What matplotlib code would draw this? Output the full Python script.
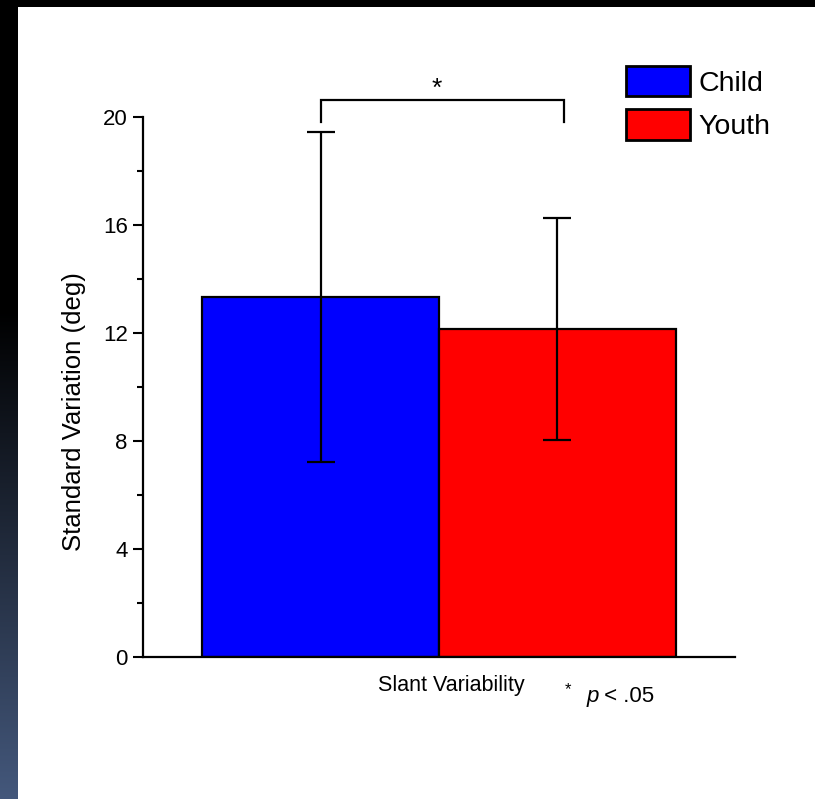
import numpy as np
import matplotlib
matplotlib.use("Agg")
import matplotlib.pyplot as plt
from matplotlib.patches import Rectangle

# Данные графика
groups = ['Child', 'Youth']
means = [13.33, 12.15]
errs = [6.1, 4.12]
yticks = [0, 4, 8, 12, 16, 20]

plt.rcParams['font.family'] = ['Liberation Sans', 'DejaVu Sans']

W, H = 815, 799
fig = plt.figure(figsize=(W / 100, H / 100), dpi=100)
fig.patch.set_facecolor('black')

# Белая панель слайда
fig.patches.append(Rectangle((18 / W, 0), 1 - 18 / W, 1 - 7 / H, transform=fig.transFigure,
                             facecolor='white', edgecolor='none', zorder=-5))

# Градиент слева
gax = fig.add_axes([0, 0, 18 / W, 1])
t = np.clip((np.arange(H) - 310) / (H - 310), 0, 1)
grad = np.zeros((H, 1, 3))
grad[:, 0, 0] = t * 68 / 255
grad[:, 0, 1] = t * 88 / 255
grad[:, 0, 2] = t * 124 / 255
gax.imshow(grad, aspect='auto', extent=[0, 1, 1, 0])
gax.set_ylim(1, 0)
gax.axis('off')

# Основной график
ax = fig.add_axes([143 / W, (H - 657) / H, 592 / W, 540 / H])
ax.set_zorder(2)
ax.patch.set_alpha(0)
x = np.arange(len(groups))
ax.bar(x, means, width=1.0, color=['#0000ff', '#ff0000'], edgecolor='black',
       linewidth=1.6, label=groups, zorder=2)
ax.errorbar(x, means, yerr=errs, fmt='none', ecolor='black', elinewidth=1.6,
            capsize=10, capthick=1.6, zorder=3)

ax.set_xlim(-0.75, 1.75)
ax.set_ylim(0, 20)
ax.set_yticks(yticks)
ax.set_yticks([2, 6, 10, 14, 18], minor=True)
ax.set_xticks([])
for s in ['top', 'right']:
    ax.spines[s].set_visible(False)
for s in ['left', 'bottom']:
    ax.spines[s].set_linewidth(1.6)
ax.tick_params(axis='y', which='major', length=7, width=1.5, direction='out', pad=4,
               labelsize=16)
ax.tick_params(axis='y', which='minor', length=4.5, width=1.5, direction='out')

# Подписи осей
ax.set_ylabel('Standard Variation (deg)', fontsize=18.5)
ax.yaxis.set_label_coords(-0.097, 0.455)
ax.set_xlabel('Slant Variability', fontsize=15.5)
ax.xaxis.set_label_coords(0.52, -0.034)

# Скобка значимости
by, bl = 20.63, 19.82
ax.plot([0, 0, 1.026, 1.026], [bl, by, by, bl], color='black', lw=1.6,
        clip_on=False, solid_joinstyle='miter', zorder=4)
ax.text(0.49, 20.6, '*', ha='center', va='bottom', fontsize=19, clip_on=False)

# Примечание p < .05
fig.text(568 / W, 1 - 690 / H, '*', ha='center', va='center', fontsize=12)
fig.text(587 / W, 1 - 702 / H, 'p', style='italic', ha='left', va='baseline',
         fontsize=16)
fig.text(598 / W, 1 - 702 / H, ' < .05', ha='left', va='baseline', fontsize=16)

# Легенда
leg = fig.legend(loc='upper left', bbox_to_anchor=(626 / W, 1 - 66 / H),
                 frameon=False, fontsize=20.5, handlelength=2.25, handleheight=1.25,
                 labelspacing=0.45, handletextpad=0.28, borderpad=0, borderaxespad=0)
for p in leg.get_patches():
    p.set_linewidth(2)

fig.savefig('out.png', dpi=100, facecolor=fig.get_facecolor())
